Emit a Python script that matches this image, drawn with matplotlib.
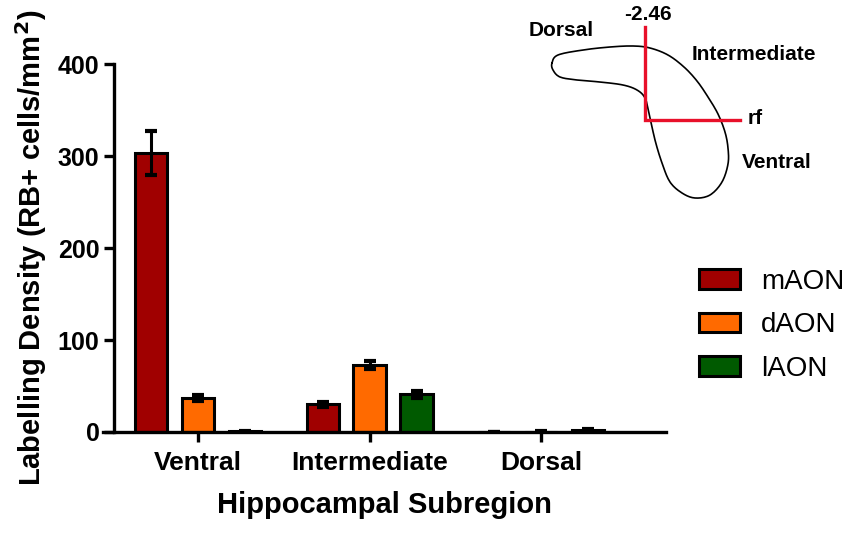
import matplotlib.pyplot as plt
import numpy as np

plt.rcParams['font.family'] = ['Liberation Sans', 'DejaVu Sans']

# data
subregions = ['Ventral', 'Intermediate', 'Dorsal']
series = ['mAON', 'dAON', 'lAON']
colors = ['#A00000', '#FF6A00', '#005A00']
maon = [303, 30, 0]
daon = [37, 73, 0.4]
laon = [1, 41, 2.5]
maon_err = [24, 3, 0]
daon_err = [3, 4, 0.2]
laon_err = [0.5, 4, 1]
yticks = [0, 100, 200, 300, 400]

# inset sketch: hippocampus outline in figure pixels (x, y from top)
outline = np.array([
    (552, 63), (558, 55), (583, 50), (610, 47), (633, 46), (650, 48),
    (668, 55), (684, 67), (697, 81), (708, 97), (718, 114), (725, 132),
    (728, 148), (728, 164), (722, 182), (710, 195), (695, 198), (682, 193),
    (670, 182), (662, 163), (655, 140), (649, 113), (645, 98), (637, 90),
    (623, 85), (600, 82), (577, 80), (560, 77), (553, 70),
])


def smooth_closed(pts, n=10):
    # periodic Catmull-Rom through the outline points
    out = []
    k = len(pts)
    for i in range(k):
        p0, p1, p2, p3 = pts[i - 1], pts[i], pts[(i + 1) % k], pts[(i + 2) % k]
        for t in np.linspace(0, 1, n, endpoint=False):
            t2, t3 = t * t, t * t * t
            out.append(0.5 * ((2 * p1) + (-p0 + p2) * t
                              + (2 * p0 - 5 * p1 + 4 * p2 - p3) * t2
                              + (-p0 + 3 * p1 - 3 * p2 + p3) * t3))
    out.append(out[0])
    return np.array(out)


fig = plt.figure(figsize=(8.5, 5.33), dpi=100)
ax = fig.add_axes([0.1212, 0.1895, 0.6624, 0.6904])

x = np.arange(len(subregions))
offset = 0.274
width = 0.187
values = [maon, daon, laon]
errors = [maon_err, daon_err, laon_err]
for i, (vals, errs, name, col) in enumerate(zip(values, errors, series, colors)):
    ax.bar(x + (i - 1) * offset, vals, width, color=col, edgecolor='black',
           linewidth=2.2, label=name, zorder=2)
    ax.errorbar(x + (i - 1) * offset, vals, yerr=errs, fmt='none',
                ecolor='black', elinewidth=2.2, capsize=4, capthick=3, zorder=3)

ax.set_xlim(-0.554, 2.729)
ax.set_ylim(0, 400)
ax.set_yticks(yticks)
ax.set_xticks(x)
ax.set_xticklabels(subregions)

for side in ['top', 'right']:
    ax.spines[side].set_visible(False)
ax.spines['left'].set_position(('axes', 0.0195))
ax.spines['left'].set_linewidth(2.4)
ax.spines['bottom'].set_linewidth(2.4)
ax.spines['left'].set_bounds(0, 400)
ax.tick_params(axis='both', direction='out', length=7.5, width=2.4, pad=3)
ax.tick_params(axis='x', labelsize=19, pad=6)
ax.tick_params(axis='y', labelsize=18)
for lab in ax.get_xticklabels() + ax.get_yticklabels():
    lab.set_fontweight('bold')

ax.set_xlabel('Hippocampal Subregion', fontsize=21, fontweight='bold', labelpad=12)
ax.set_ylabel('Labelling Density (RB+ cells/mm$\\mathbf{^2}$)', fontsize=21,
              fontweight='bold', labelpad=6)

leg = ax.legend(loc='center left', bbox_to_anchor=(0.822, 0.39),
                bbox_transform=fig.transFigure, frameon=False,
                fontsize=20, handlelength=1.5, handleheight=0.72,
                handletextpad=0.75, labelspacing=0.63, borderpad=0,
                borderaxespad=0)

# inset diagram in pixel coordinates
ov = fig.add_axes([0, 0, 1, 1], facecolor='none')
ov.set_xlim(0, 850)
ov.set_ylim(533, 0)
ov.axis('off')
curve = smooth_closed(outline.astype(float))
ov.plot(curve[:, 0], curve[:, 1], color='black', lw=1.2)
ov.plot([645, 645, 740], [27, 120, 120], color='#E8102A', lw=2.4,
        solid_joinstyle='miter')
ov.text(648, 14, '-2.46', ha='center', va='center', fontsize=15, fontweight='bold')
ov.text(561, 31, 'Dorsal', ha='center', va='center', fontsize=15, fontweight='bold')
ov.text(692, 55, 'Intermediate', ha='left', va='center', fontsize=15, fontweight='bold')
ov.text(748, 119, 'rf', ha='left', va='center', fontsize=15, fontweight='bold')
ov.text(742, 163, 'Ventral', ha='left', va='center', fontsize=15, fontweight='bold')

fig.savefig('out.png', dpi=100)
